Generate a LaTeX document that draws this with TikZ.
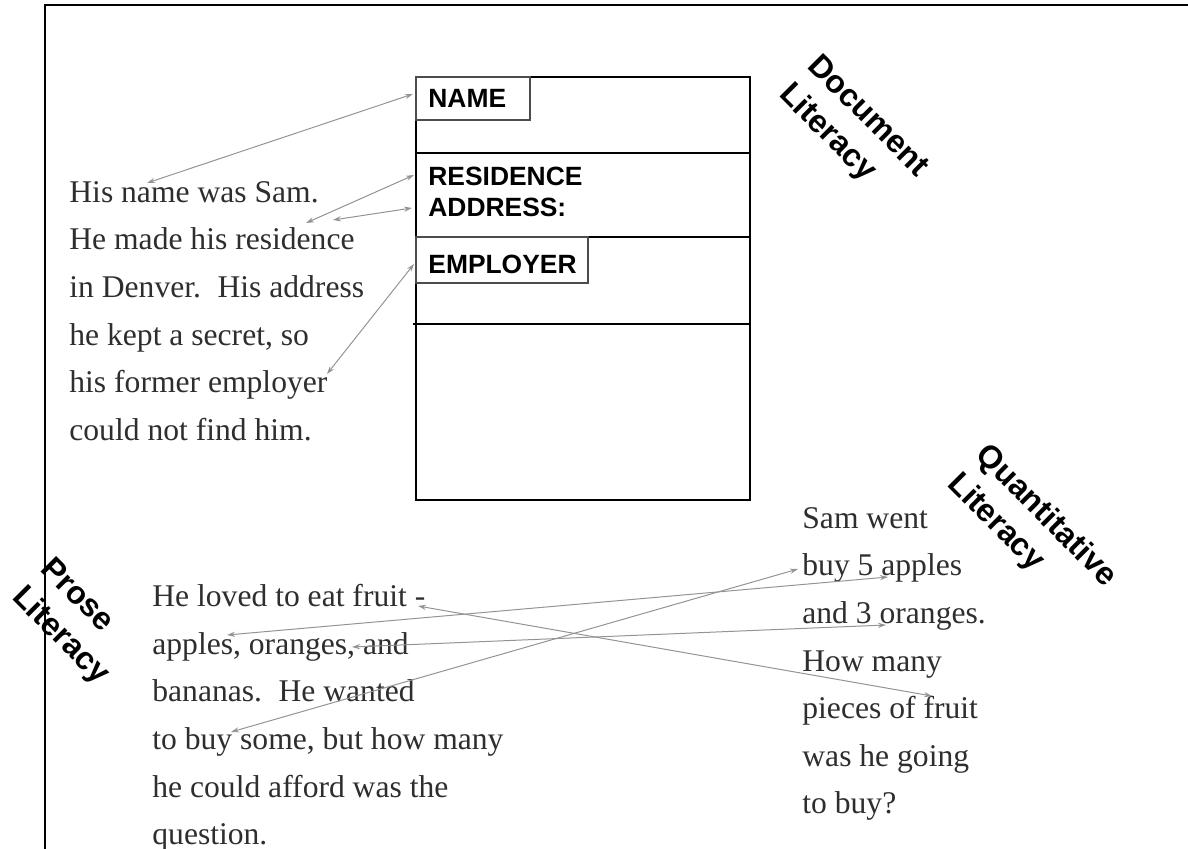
\documentclass[tikz,border=0pt]{standalone}
\usepackage{fontspec}
\setmainfont{Liberation Serif}
\setsansfont{Liberation Sans}
\usetikzlibrary{arrows.meta}
\begin{document}
\begin{tikzpicture}[x=0.5pt,y=-0.5pt,
  body/.style={anchor=north west, inner sep=0pt, align=left, text=black!82,
    font=\fontsize{15.8}{23.8}\selectfont},
  fld/.style={anchor=north west, inner sep=0pt, align=left,
    font=\sffamily\bfseries\fontsize{13.2}{15.5}\selectfont},
  lit/.style={anchor=north west, inner sep=0pt, align=left, rotate=-45,
    font=\sffamily\bfseries\fontsize{16}{20}\selectfont},
  link/.style={draw=black!42, line width=0.5pt,
    {Stealth[length=4pt,width=2.6pt]}-{Stealth[length=4pt,width=2.6pt]}},
  formline/.style={draw=black, line width=1.1pt},
  subbox/.style={draw=black!70, line width=0.6pt}]
\useasboundingbox (0,0) rectangle (1188,849);
% frame
\draw[line width=1pt] (45,849) -- (45,5) -- (1188,5);
% form
\draw[formline] (416,77) rectangle (750,500);
\draw[formline] (416,153) -- (750,153);
\draw[formline] (416,237) -- (750,237);
\draw[formline] (413,324) -- (750,324);
\draw[subbox] (416,77) rectangle (530,120);
\draw[subbox] (416,237) rectangle (588,283);
\node[fld] (fname) at (428,89) {NAME};
\node[fld] (fres) at (428,167) {RESIDENCE\\ADDRESS:};
\node[fld] (femp) at (428,255) {EMPLOYER};
% labels
\node[lit] (ldoc) at (822,51) {Document\\Literacy};
\node[lit] (lquant) at (991,440) {Quantitative\\Literacy};
\node[lit] (lprose) at (55,554) {Prose\\Literacy};
% texts
\node[body] (story) at (69,181) {His name was Sam.\\He made his residence\\in Denver.\hspace{3pt} His address\\he kept a secret, so\\his former employer\\could not find him.};
\node[body] (prose) at (152,584) {He loved to eat fruit -\\apples, oranges, and\\bananas.\hspace{3pt} He wanted\\to buy some, but how many\\he could afford was the\\question.};
\node[body] (quant) at (802,507) {Sam went\\buy 5 apples\\and 3 oranges.\\How many\\pieces of fruit\\was he going\\to buy?};
% connector end points
\coordinate (wname) at (147,183);
\coordinate (pname) at (413,94);
\coordinate (wres) at (306,223);
\coordinate (pres) at (414,175);
\coordinate (waddr) at (333,220);
\coordinate (paddr) at (412,208);
\coordinate (wemp) at (327,374);
\coordinate (pemp) at (414,264);
\coordinate (wfruit) at (418,606);
\coordinate (qfruit) at (932,696);
\coordinate (wapples) at (227,635);
\coordinate (qapples) at (888,577);
\coordinate (woranges) at (352,647);
\coordinate (qoranges) at (886,625);
\coordinate (wbuy) at (231,732);
\coordinate (qbuy) at (798,569);
% connectors
\draw[link] (wname) -- (pname);
\draw[link] (wres) -- (pres);
\draw[link] (waddr) -- (paddr);
\draw[link] (wemp) -- (pemp);
\draw[link] (wfruit) -- (qfruit);
\draw[link] (wapples) -- (qapples);
\draw[link] (woranges) -- (qoranges);
\draw[link] (wbuy) -- (qbuy);
\end{tikzpicture}
\end{document}
